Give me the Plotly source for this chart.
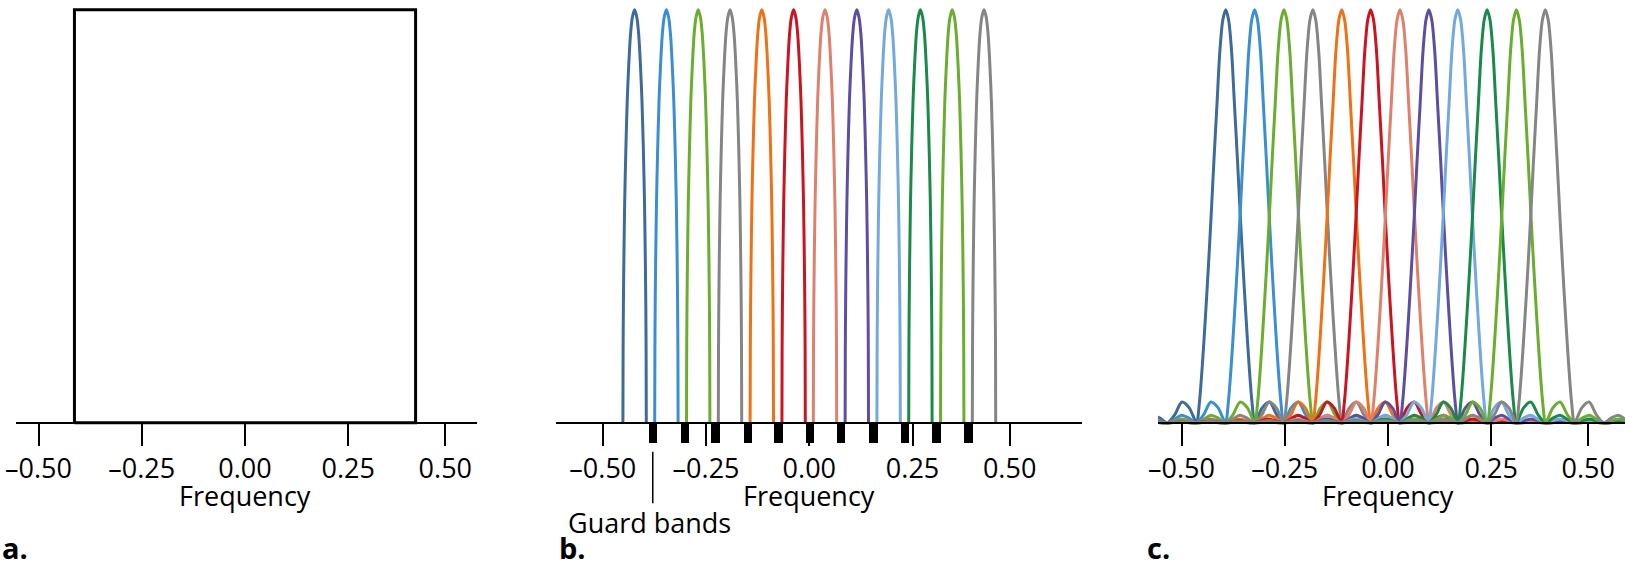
import plotly.graph_objects as go

# a. ideal (brick wall) band
rect_x = [-0.413, -0.413, 0.413, 0.413, -0.413]
rect_y = [0.0, 1.0, 1.0, 0.0, 0.0]

# b. twelve channels kept apart by guard bands
b_centers = [-0.423, -0.346, -0.269, -0.192, -0.115, -0.038,
             0.038, 0.115, 0.192, 0.269, 0.346, 0.423]
b_half_width = 0.0283
# one side of a channel (offset / half width, height)
b_shape_u = [0.0, 0.2, 0.35, 0.5, 0.63, 0.75, 0.85, 0.92, 0.96, 0.985, 1.0]
b_shape_h = [1.0, 0.98, 0.94, 0.866, 0.78, 0.66, 0.53, 0.39, 0.28, 0.17, 0.0]
guard_x = [-0.379, -0.301, -0.227, -0.149, -0.075, 0.002,
           0.077, 0.155, 0.232, 0.308, 0.385]
guard_top = -0.003
guard_depth = -0.046

# c. overlapping sub-carriers
c_centers = [-0.393, -0.323, -0.252, -0.182, -0.112, -0.042,
             0.029, 0.099, 0.169, 0.240, 0.311, 0.381]
c_spacing = 0.0707
# one side of a sub-carrier (offset / spacing, height)
c_shape_u = [0.0, 0.1, 0.2, 0.3, 0.4, 0.5, 0.6, 0.7, 0.8, 0.9, 1.0,
             1.25, 1.5, 1.75, 2.0, 2.25, 2.5, 2.75, 3.0, 3.5, 4.0,
             4.5, 5.0, 5.5, 6.0, 6.5, 7.0, 7.5, 8.0, 8.5, 9.0, 9.5,
             10.0, 10.5, 11.0, 11.5, 12.0, 12.5, 13.0, 13.5, 14.0]
c_shape_h = [1.0, 0.975, 0.9, 0.77, 0.64, 0.5, 0.37, 0.25, 0.14, 0.05, 0.0,
             0.036, 0.05, 0.019, 0.0, 0.011, 0.018, 0.008, 0.0, 0.009, 0.0,
             0.005, 0.0, 0.0035, 0.0, 0.0025, 0.0, 0.0018, 0.0, 0.0014, 0.0, 0.0011,
             0.0, 0.0009, 0.0, 0.0008, 0.0, 0.0007, 0.0, 0.0006, 0.0]

colors = ["#3d6b9b", "#3a8ed2", "#6aae2e", "#858585", "#f07114", "#cc1421",
          "#e0806a", "#5d4ea2", "#72a9df", "#1a8a48", "#6aae2e", "#858585"]

# the "0.50" tick sits a little short of 0.5 in the original
tick_vals = [-0.5, -0.25, 0.0, 0.25, 0.485]
tick_text = ["\u20130.50", "\u20130.25", "0.00", "0.25", "0.50"]


def mirror(u, h):
    return [-v for v in reversed(u[1:])] + u, list(reversed(h[1:])) + h


fig = go.Figure()

fig.add_trace(go.Scatter(x=rect_x, y=rect_y, mode="lines",
                         line=dict(color="black", width=3),
                         xaxis="x", yaxis="y"))

bu, bh = mirror(b_shape_u, b_shape_h)
for c, col in zip(b_centers, colors):
    fig.add_trace(go.Scatter(x=[c + u * b_half_width for u in bu], y=bh,
                             mode="lines",
                             line=dict(color=col, width=3, shape="spline", smoothing=0.8),
                             xaxis="x2", yaxis="y2"))
fig.add_trace(go.Bar(x=guard_x, y=[guard_depth] * len(guard_x), base=guard_top,
                     width=0.0206, marker=dict(color="black", line=dict(width=0)),
                     xaxis="x2", yaxis="y2"))

cu, ch = mirror(c_shape_u, c_shape_h)
for c, col in zip(c_centers, colors):
    fig.add_trace(go.Scatter(x=[c + u * c_spacing for u in cu], y=ch,
                             mode="lines",
                             line=dict(color=col, width=3, shape="spline", smoothing=0.8),
                             xaxis="x3", yaxis="y3"))

W, H = 1625, 567
y0_px = 422.7
ydom = [0.2108, 0.9975]
yrange = [-0.06, 1.02]
axis_pos = (H - y0_px) / H

xaxis_common = dict(anchor="free", position=axis_pos, automargin=False,
                    showgrid=False, zeroline=False,
                    showline=True, linecolor="black", linewidth=1.5,
                    ticks="outside", ticklen=23, tickwidth=1.5, tickcolor="black",
                    tickvals=tick_vals, ticktext=tick_text, ticklabelstandoff=-1,
                    tickfont=dict(family="Open Sans", size=27, color="black"))
yaxis_common = dict(domain=ydom, range=yrange, visible=False, automargin=False,
                    showgrid=False, zeroline=False)

fig.update_layout(
    template="none",
    width=W, height=H,
    margin=dict(l=0, r=0, t=0, b=0, pad=0),
    paper_bgcolor="white", plot_bgcolor="white",
    showlegend=False, bargap=0,
    font=dict(family="Open Sans", size=27, color="black"),
    xaxis=dict(domain=[16 / W, 477 / W], range=[-0.5545, 0.5617], **xaxis_common),
    xaxis2=dict(domain=[556 / W, 1081.7 / W], range=[-0.6133, 0.6595], **xaxis_common),
    xaxis3=dict(domain=[1158 / W, 1.0], range=[-0.557, 0.574], **xaxis_common),
    yaxis=dict(anchor="x", **yaxis_common),
    yaxis2=dict(anchor="x2", **yaxis_common),
    yaxis3=dict(anchor="x3", **yaxis_common),
)

freq_y = (H - 495.5) / H
for ax in ["x", "x2", "x3"]:
    fig.add_annotation(x=0, xref=ax, y=freq_y, yref="paper", text="Frequency",
                       showarrow=False, xanchor="center", yanchor="middle",
                       font=dict(size=27))

# pointer for the guard bands
fig.add_shape(type="line", xref="x2", yref="paper", x0=-0.379, x1=-0.379,
              y0=(H - 451.7) / H, y1=(H - 503.3) / H,
              line=dict(color="black", width=1.5))
fig.add_annotation(x=649 / W, xref="paper", y=(H - 522.7) / H, yref="paper",
                   text="Guard bands", showarrow=False, xanchor="center",
                   yanchor="middle", font=dict(size=27))

for lbl, px in [("a.", 0), ("b.", 556.7), ("c.", 1145)]:
    fig.add_annotation(x=px / W, xref="paper", y=(H - 547) / H, yref="paper",
                       text="<b>%s</b>" % lbl, showarrow=False, xanchor="left",
                       yanchor="middle", font=dict(size=29))

# the page's default body margin would push the chart off by 8 px
fig.write_html("out.html", config={"displayModeBar": False},
               post_script="document.body.style.margin='0';document.body.style.overflow='hidden';")
